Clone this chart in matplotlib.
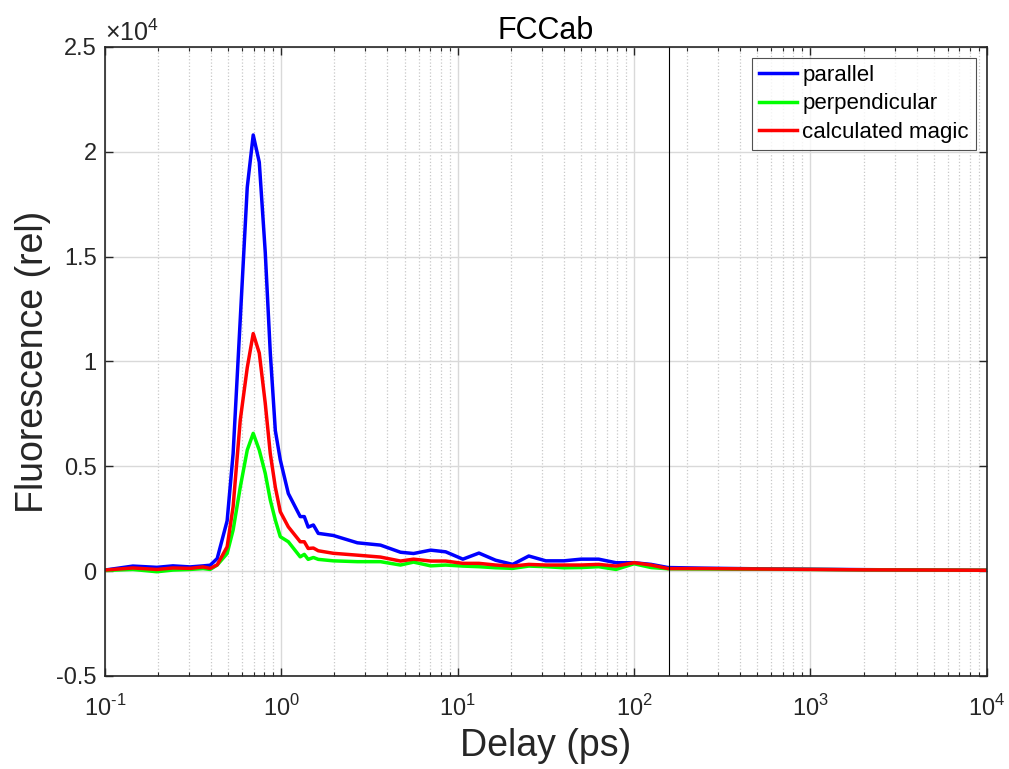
import numpy as np
import matplotlib
matplotlib.use("Agg")
import matplotlib.pyplot as plt
from matplotlib.ticker import LogLocator, FuncFormatter, NullFormatter

plt.rcParams['font.family'] = ['Liberation Sans', 'DejaVu Sans']
plt.rcParams['mathtext.fontset'] = 'custom'
plt.rcParams['mathtext.rm'] = 'Liberation Sans'

# delay (ps) and fluorescence values (rel)
delay = [0.1, 0.144, 0.197, 0.243, 0.304, 0.36, 0.395, 0.433, 0.493, 0.533,
         0.585, 0.641, 0.693, 0.750, 0.811, 0.866, 0.925, 0.987, 1.096, 1.28,
         1.35, 1.42, 1.52, 1.62, 1.97, 2.70, 3.65, 4.74, 5.62, 7.03,
         8.55, 10.7, 13.2, 16.4, 20.5, 25.3, 31.6, 40, 50, 63,
         79, 100, 125, 156, 250, 500, 1000, 2000, 5000, 10000]

parallel = [50, 240, 180, 250, 200, 250, 280, 600, 2400, 5600,
            12000, 18300, 20800, 19500, 15200, 10400, 6700, 5300, 3700, 2600,
            2600, 2100, 2200, 1800, 1700, 1350, 1240, 900, 840, 1000,
            920, 570, 860, 520, 320, 720, 490, 490, 570, 570,
            400, 400, 320, 170, 140, 110, 90, 70, 50, 40]

perpendicular = [30, 80, -30, 50, 80, 120, 80, 290, 840, 1960,
                 4000, 5770, 6570, 5770, 4660, 3390, 2430, 1640, 1400, 680,
                 800, 560, 650, 560, 490, 450, 450, 290, 430, 250,
                 290, 240, 210, 160, 130, 240, 210, 160, 170, 210,
                 80, 350, 170, 110, 100, 90, 80, 60, 50, 40]

magic = [50, 150, 80, 150, 130, 200, 130, 300, 1160, 3070,
         7200, 9700, 11330, 10400, 8000, 5600, 4000, 2830, 2110, 1400,
         1400, 1080, 1100, 970, 850, 760, 670, 480, 570, 480,
         480, 370, 370, 290, 240, 320, 290, 290, 290, 320,
         240, 400, 290, 120, 120, 100, 80, 60, 50, 40]

marker_delay = 158

fig = plt.figure(figsize=(10.09, 7.69), dpi=100)
ax = fig.add_axes([0.104, 0.121, 0.874, 0.818])

ax.plot(delay, parallel, color='#0000ff', lw=2.5, label='parallel')
ax.plot(delay, perpendicular, color='#00ff00', lw=2.5, label='perpendicular')
ax.plot(delay, magic, color='#ff0000', lw=2.5, label='calculated magic')
ax.axvline(marker_delay, color='black', lw=0.8)

ax.set_xscale('log')
ax.set_xlim(0.1, 1e4)
ax.set_ylim(-5000, 25000)
ax.set_yticks(np.arange(-5000, 25001, 5000))
ax.yaxis.set_major_formatter(FuncFormatter(lambda v, p: f"{v/1e4:g}"))
ax.xaxis.set_major_locator(LogLocator(base=10, numticks=10))
ax.xaxis.set_major_formatter(FuncFormatter(lambda v, p: "$10^{%d}$" % round(np.log10(v)) if v >= 1 else "$10^{\u2010%d}$" % round(-np.log10(v))))
ax.xaxis.set_minor_locator(LogLocator(base=10, subs=np.arange(2, 10), numticks=20))
ax.xaxis.set_minor_formatter(NullFormatter())

ax.grid(True, which='major', color='#d9d9d9', lw=1.0, ls='-')
ax.grid(True, which='minor', axis='x', color='#c8c8c8', lw=0.9, ls=':')
ax.set_axisbelow(True)

ax.tick_params(which='both', direction='in', top=True, right=True, labelsize=17, colors='#262626')
ax.tick_params(which='major', length=6, width=1)
ax.tick_params(which='minor', length=3, width=0.8)
ax.tick_params(axis='x', pad=14)
ax.tick_params(axis='y', pad=6)
for s in ax.spines.values():
    s.set_color('#262626')
    s.set_linewidth(1.2)

ax.text(0.0, 1.002, r'$\times10^4$', transform=ax.transAxes, fontsize=18,
        ha='left', va='bottom', color='#262626')
ax.set_title('FCCab', fontsize=22, color='black', pad=6)
ax.set_xlabel('Delay (ps)', fontsize=27, color='#262626', labelpad=5)
ax.set_ylabel('Fluorescence (rel)', fontsize=27, color='#262626', labelpad=4)

leg = ax.legend(loc='upper right', fontsize=16, frameon=True, fancybox=False,
                edgecolor='#262626', handlelength=1.7, handletextpad=0.25,
                borderaxespad=0.5, labelspacing=0.35, borderpad=0.3)
leg.get_frame().set_linewidth(0.8)

fig.savefig('out.png', dpi=100)
